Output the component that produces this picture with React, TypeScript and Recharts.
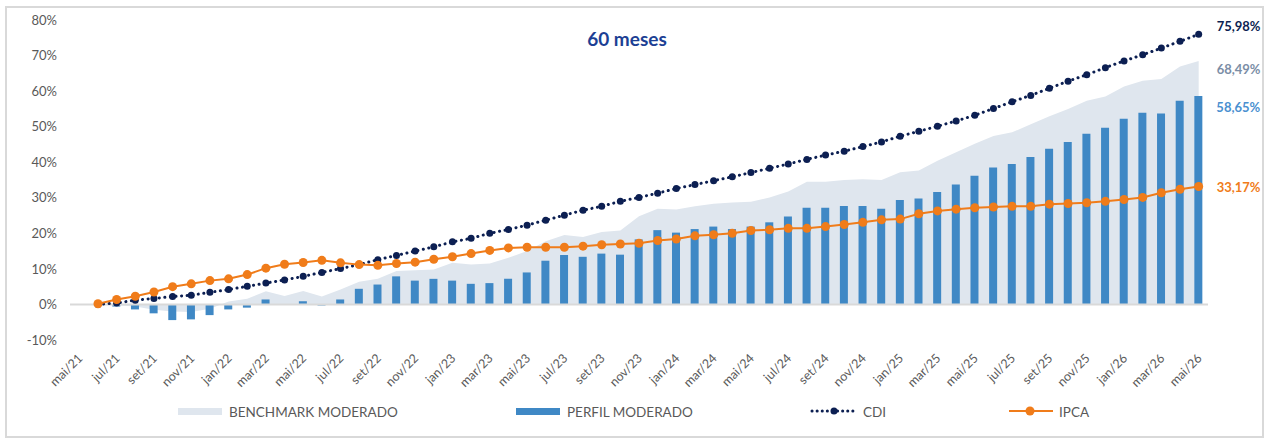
import {
  ComposedChart,
  Area,
  Bar,
  Line,
  XAxis,
  YAxis,
  ReferenceLine,
  LabelList,
} from "recharts";

// month labels, mai/21 .. mai/26
const monthNames = ["jan", "fev", "mar", "abr", "mai", "jun", "jul", "ago", "set", "out", "nov", "dez"];
const months: string[] = [];
for (let y = 21; y <= 26; y++) {
  for (let m = 0; m < 12; m++) {
    if ((y === 21 && m < 4) || (y === 26 && m > 4)) continue;
    months.push(`${monthNames[m]}/${y}`);
  }
}

const benchmark = [
  null, 0, -0.2, -0.6, -1.5, -2.0, -2.1, -1.2, 0.8, 1.6, 3.7,
  2.4, 3.8, 2.2, 4.2, 6.4, 7.2, 9.4, 9.6, 9.8, 11.7,
  11.2, 11.5, 13.1, 15.0, 17.8, 19.5, 19.0, 20.4, 20.8, 24.8,
  26.9, 26.7, 27.6, 28.3, 28.7, 28.9, 30.1, 31.8, 34.5, 34.5,
  35.0, 35.2, 35.0, 37.2, 37.7, 40.4, 42.8, 45.2, 47.4, 48.4,
  50.7, 52.9, 55.0, 57.3, 58.5, 61.3, 62.9, 63.4, 66.9, 68.49,
];

const perfil = [
  null, 0, -0.6, -1.4, -2.5, -4.4, -4.2, -3.0, -1.4, -0.9, 1.4,
  0.1, 0.9, -0.3, 1.4, 4.4, 5.6, 7.9, 6.7, 7.2, 6.7,
  5.8, 6.0, 7.2, 9.0, 12.3, 13.9, 13.4, 14.3, 14.0, 18.3,
  20.9, 20.2, 21.2, 21.9, 21.2, 21.9, 23.1, 24.7, 27.2, 27.2,
  27.7, 27.7, 26.9, 29.4, 29.8, 31.6, 33.7, 36.2, 38.5, 39.5,
  41.5, 43.8, 45.7, 48.0, 49.7, 52.2, 53.9, 53.7, 57.3, 58.65,
];

const cdi = [
  null, 0, 0.4, 1.2, 1.7, 2.2, 2.6, 3.4, 4.2, 5.1, 6.0,
  6.9, 7.9, 9.0, 10.1, 11.2, 12.6, 13.8, 15.0, 16.2, 17.6,
  18.6, 20.0, 21.1, 22.3, 23.7, 25.1, 26.5, 27.6, 29.0, 30.1,
  31.3, 32.6, 33.7, 34.8, 35.9, 37.1, 38.3, 39.5, 40.8, 42.0,
  43.1, 44.4, 45.7, 47.3, 48.7, 50.1, 51.6, 53.2, 55.1, 57.0,
  58.8, 60.8, 62.8, 64.6, 66.6, 68.5, 70.2, 72.1, 74.0, 75.98,
];

const ipca = [
  null, 0.2, 1.4, 2.3, 3.5, 5.0, 5.8, 6.7, 7.2, 8.4, 10.2,
  11.3, 11.8, 12.4, 11.7, 11.2, 11.0, 11.5, 11.9, 12.7, 13.4,
  14.3, 15.2, 15.9, 16.1, 16.1, 16.1, 16.4, 16.8, 17.0, 17.2,
  18.0, 18.4, 19.3, 19.6, 20.0, 20.8, 21.0, 21.4, 21.4, 21.9,
  22.5, 23.1, 23.8, 24.0, 25.5, 26.3, 26.8, 27.2, 27.4, 27.6,
  27.6, 28.2, 28.4, 28.6, 29.0, 29.5, 30.1, 31.4, 32.4, 33.17,
];

const yTicks = [-10, 0, 10, 20, 30, 40, 50, 60, 70, 80];

const data = months.map((month, i) => ({
  month,
  benchmark: benchmark[i],
  perfil: perfil[i],
  cdi: cdi[i],
  ipca: ipca[i],
}));

const C_BENCH = "#dfe6ee";
const C_PERFIL = "#3f88c5";
const C_CDI = "#0c1f52";
const C_IPCA = "#f07c1a";
const GREY = "#595959";

const fmtPct = (v: number) => `${v.toFixed(2).replace(".", ",")}%`;

// label only the final point of a series (matched by its value)
const endLabel = (series: (number | null)[], color: string, dy: number) => (props: any) => {
  const { x, y, width, value } = props;
  const last = series[series.length - 1];
  if (value == null || Number(value) !== last) return null;
  const cx = Number(x) + (Number(width) || 0) / 2;
  return (
    <text
      x={cx + 18}
      y={Number(y) + dy}
      fill={color}
      fontSize={13}
      fontWeight={700}
      dominantBaseline="central"
    >
      {fmtPct(Number(value))}
    </text>
  );
};

const XTick = (props: any) => {
  const { x, y, payload } = props;
  return (
    <g transform={`translate(${x + 4},${y + 17})`}>
      <text x={0} y={0} textAnchor="end" fill={GREY} fontSize={12.5} transform="rotate(-45)">
        {payload.value}
      </text>
    </g>
  );
};

const legendText = { position: "absolute" as const, top: 403, fontSize: 13.5, color: GREY, lineHeight: "18px" };

const App = () => (
  <div style={{ position: "relative", width: 1267, height: 439, fontFamily: "Lato, 'Open Sans', sans-serif" }}>
    <style>{"body{margin:0}"}</style>
    <div
      style={{
        position: "absolute",
        left: 5,
        top: 6,
        width: 1255,
        height: 428,
        border: "2px solid #d9d9d9",
      }}
    />
    <div
      style={{
        position: "absolute",
        left: 0,
        width: 1254,
        top: 27,
        textAlign: "center",
        fontSize: 19,
        fontWeight: 700,
        color: "#1c3f94",
      }}
    >
      60 meses
    </div>
    <div style={{ position: "absolute", left: 0, top: 0 }}>
      <ComposedChart
        width={1267}
        height={439}
        data={data}
        margin={{ top: 20, right: 59, bottom: 49, left: 10 }}
        barSize={8}
      >
        <XAxis
          dataKey="month"
          interval={1}
          tick={<XTick />}
          tickLine={false}
          axisLine={false}
          tickSize={0}
          height={50}
        />
        <YAxis
          width={60}
          domain={[-10, 80]}
          ticks={yTicks}
          tickFormatter={(v) => `${v}%`}
          axisLine={false}
          tickLine={false}
          tickSize={0}
          tickMargin={13}
          tick={{ fill: GREY, fontSize: 13 }}
          allowDataOverflow
        />
        <Area
          dataKey="benchmark"
          type="linear"
          fill={C_BENCH}
          fillOpacity={1}
          stroke="none"
          isAnimationActive={false}
        >
          <LabelList dataKey="benchmark" content={endLabel(benchmark, "#7b8ea6", 8)} />
        </Area>
        <ReferenceLine y={0} stroke="#d9d9d9" strokeWidth={2} />
        <Bar dataKey="perfil" fill={C_PERFIL} isAnimationActive={false}>
          <LabelList dataKey="perfil" content={endLabel(perfil, "#4a90d0", 11)} />
        </Bar>
        <Line
          dataKey="cdi"
          type="linear"
          stroke={C_CDI}
          strokeWidth={3}
          strokeDasharray="0.1 5.5"
          strokeLinecap="round"
          dot={{ r: 3.5, fill: C_CDI, stroke: "none" }}
          isAnimationActive={false}
        >
          <LabelList dataKey="cdi" content={endLabel(cdi, C_CDI, -8)} />
        </Line>
        <Line
          dataKey="ipca"
          type="linear"
          stroke={C_IPCA}
          strokeWidth={2}
          dot={{ r: 4.5, fill: C_IPCA, stroke: "none" }}
          isAnimationActive={false}
        >
          <LabelList dataKey="ipca" content={endLabel(ipca, C_IPCA, 0)} />
        </Line>
      </ComposedChart>
    </div>

    {/* legend */}
    <div style={{ position: "absolute", left: 178, top: 408, width: 44, height: 7, background: C_BENCH }} />
    <div style={{ ...legendText, left: 229 }}>BENCHMARK MODERADO</div>
    <div style={{ position: "absolute", left: 516, top: 408, width: 44, height: 7, background: C_PERFIL }} />
    <div style={{ ...legendText, left: 567 }}>PERFIL MODERADO</div>
    <svg style={{ position: "absolute", left: 810, top: 404 }} width={46} height={14}>
      <line x1={2} y1={7} x2={44} y2={7} stroke={C_CDI} strokeWidth={3} strokeDasharray="0.1 5" strokeLinecap="round" />
      <circle cx={24} cy={7} r={3.5} fill={C_CDI} />
    </svg>
    <div style={{ ...legendText, left: 863 }}>CDI</div>
    <svg style={{ position: "absolute", left: 1008, top: 404 }} width={46} height={14}>
      <line x1={1} y1={7} x2={45} y2={7} stroke={C_IPCA} strokeWidth={2} />
      <circle cx={22} cy={7} r={4.5} fill={C_IPCA} />
    </svg>
    <div style={{ ...legendText, left: 1059 }}>IPCA</div>
  </div>
);

export default App;
